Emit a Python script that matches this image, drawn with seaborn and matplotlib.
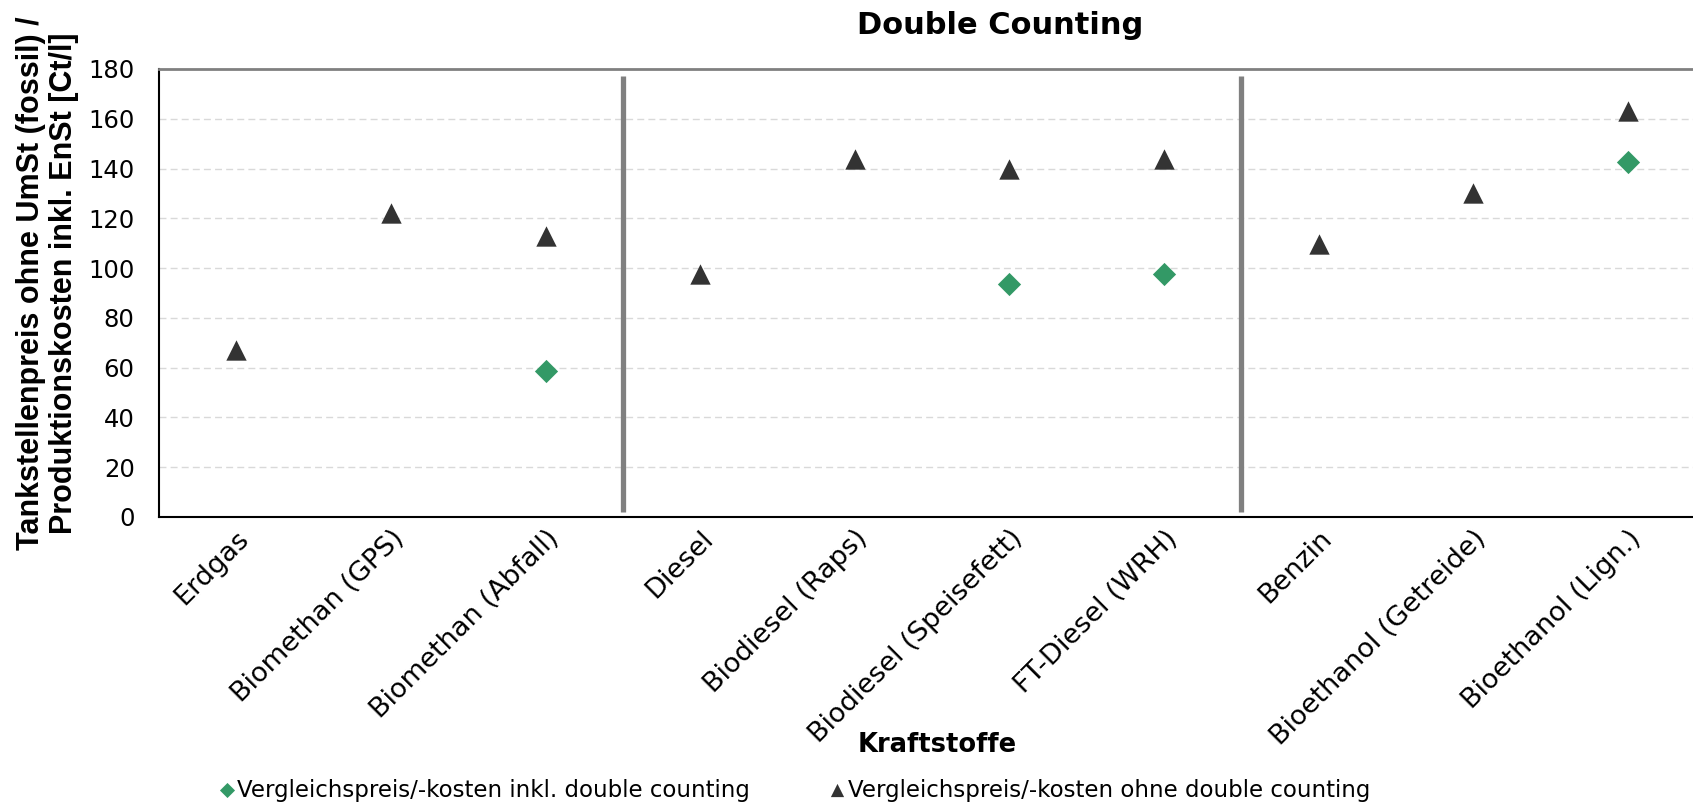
import numpy as np
import pandas as pd
import matplotlib
matplotlib.use("Agg")
import matplotlib.pyplot as plt
import seaborn as sns

# ---- data ----
categories = ["Erdgas", "Biomethan (GPS)", "Biomethan (Abfall)",
              "Diesel", "Biodiesel (Raps)", "Biodiesel (Speisefett)", "FT-Diesel (WRH)",
              "Benzin", "Bioethanol (Getreide)", "Bioethanol (Lign.)"]
group_sizes = [3, 4, 3]
inkl_dc = [np.nan, np.nan, 58.5, np.nan, np.nan, 93.5, 97.5, np.nan, np.nan, 142.5]
ohne_dc = [67, 122, 113, 97.5, 144, 140, 144, 109.5, 130, 163]
series_names = ["Vergleichspreis/-kosten inkl. double counting",
                "Vergleichspreis/-kosten ohne double counting"]
y_ticks = list(range(0, 181, 20))
title = "Double Counting"
xlabel = "Kraftstoffe"
ylabel = "Tankstellenpreis ohne UmSt (fossil) /\nProduktionskosten inkl. EnSt [Ct/l]"

sns.set_theme(style="white")
plt.rcParams["font.family"] = ["DejaVu Sans"]
plt.rcParams["text.color"] = "black"
plt.rcParams["axes.labelcolor"] = "black"
plt.rcParams["xtick.color"] = "black"
plt.rcParams["ytick.color"] = "black"

W, H = 1693, 806
fig = plt.figure(figsize=(W / 100, H / 100), dpi=100)
left, bottom, top, right = 159, 517, 69, 1705
ax = fig.add_axes([left / W, 1 - bottom / H, (right - left) / W, (bottom - top) / H])

cat = pd.Categorical(categories, categories=categories, ordered=True)
df = pd.DataFrame({"Kraftstoff": cat, "inkl": inkl_dc, "ohne": ohne_dc})

green = "#339966"
dark = "#333333"
sns.scatterplot(data=df, x="Kraftstoff", y="ohne", marker="^", s=215, color=dark,
                edgecolor=dark, linewidth=0, ax=ax, label=series_names[1], zorder=4)
sns.scatterplot(data=df.dropna(subset=["inkl"]), x="Kraftstoff", y="inkl", marker="D", s=140,
                color=green, edgecolor=green, linewidth=0, ax=ax, label=series_names[0], zorder=4)

n = len(categories)
ax.set_xlim(-0.5, n - 0.5)
ax.set_ylim(0, 180)
ax.set_yticks(y_ticks)
ax.set_yticklabels([str(v) for v in y_ticks])
ax.set_xticks(np.arange(n))
ax.set_xticklabels(categories, rotation=45, ha="right", va="top", rotation_mode="anchor",
                   fontsize=19.5, color="black")
ax.set_xticks(np.arange(n + 1) - 0.5, minor=True)
ax.tick_params(axis="x", which="major", length=0, pad=6)
ax.tick_params(axis="x", which="minor", length=6.5, width=1, color="black", direction="out")
ax.tick_params(axis="y", which="major", length=6.5, width=1, color="black", direction="out",
               labelsize=17.5, pad=11)
ax.tick_params(axis="both", labelcolor="black")

# grid
for v in y_ticks[1:-1]:
    ax.axhline(v, color="#d9d9d9", lw=1, ls=(0, (5, 3)), zorder=0)

# group separators
bounds = np.cumsum(group_sizes)[:-1] - 0.5
ax.vlines(bounds, 2, 177, color="#808080", lw=3.8, zorder=3)

# spines
ax.spines["top"].set_color("#808080")
ax.spines["top"].set_linewidth(2)
ax.spines["right"].set_visible(False)
for s in ["left", "bottom"]:
    ax.spines[s].set_color("black")
    ax.spines[s].set_linewidth(1.5)

ax.set_xlabel(xlabel, fontsize=18.5, fontweight="bold", va="center", color="black")
ax.xaxis.set_label_coords((937 - left) / (right - left), -(745 - bottom) / (bottom - top))
ax.set_ylabel(ylabel, fontsize=22, fontweight="bold", family=["Liberation Sans"],
              va="center", ha="center", linespacing=1.15, color="black")
ax.yaxis.set_label_coords(-(159 - 47.5) / (right - left), (bottom - 283) / (bottom - top))

fig.text(1000 / W, 1 - 25 / H, title, ha="center", va="center", fontsize=22,
         fontweight="bold", color="black")

handles, labels = ax.get_legend_handles_labels()
order = [labels.index(series_names[0]), labels.index(series_names[1])]
if ax.legend_:
    ax.legend_.remove()
leg = fig.legend([handles[i] for i in order], [labels[i] for i in order], loc="center",
                 bbox_to_anchor=(795 / W, 1 - 790 / H), ncol=2, frameon=False, fontsize=16.5,
                 markerscale=0.65, handlelength=0.6, handletextpad=0.15, columnspacing=3.5)
for t in leg.get_texts():
    t.set_color("black")

fig.savefig("out.png", dpi=100)
